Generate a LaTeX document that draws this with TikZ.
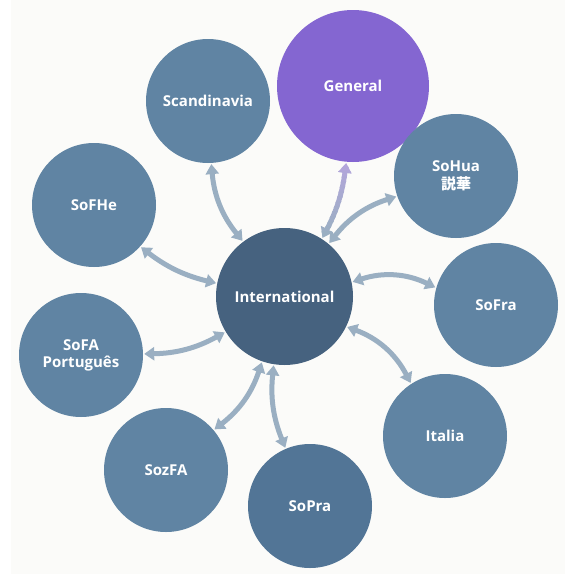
\documentclass[tikz,border=0pt]{standalone}
\usepackage{fontspec}
\setmainfont{Open Sans}
\newfontfamily\cjkfont{Noto Sans CJK JP}
\usetikzlibrary{arrows.meta}
\definecolor{bgc}{HTML}{FBFBF9}
\definecolor{nodec}{HTML}{6084A3}
\definecolor{intc}{HTML}{46627F}
\definecolor{prac}{HTML}{527596}
\definecolor{genc}{HTML}{8466D1}
\definecolor{arrowc}{HTML}{9AAFC2}
\definecolor{genarr}{HTML}{B6A5DE}
\tikzset{
  bubble/.style={circle, fill=nodec, text=white, inner sep=0pt, minimum size=124pt,
    font=\bfseries\fontsize{15}{17}\selectfont, align=center},
  conn/.style={line width=5pt, draw=arrowc,
    {Triangle[length=10pt,width=13pt]}-{Triangle[length=10pt,width=13pt]},
    shorten <=1pt, shorten >=1pt},
}
\begin{document}
\begin{tikzpicture}[x=1pt,y=1pt]
\fill[white] (0,0) rectangle (576,-576);
\fill[bgc] (11,0) rectangle (565,-574);
\useasboundingbox (0,0) rectangle (576,-576);

\node[bubble, fill=intc, minimum size=137pt] (Int) at (284.5,-296.5) {International};
\node[bubble, fill=genc, minimum size=152pt] (Gen) at (353,-86) {General};
\node[bubble] (Sca) at (208,-101) {Scandinavia};
\node[bubble] (Hua) at (456,-176) {SoHua\\[1pt]{\cjkfont\bfseries 説華}};
\node[bubble] (Fhe) at (94,-205) {SoFHe};
\node[bubble] (Fra) at (496,-305) {SoFra};
\node[bubble] (Ita) at (445,-436) {Italia};
\node[bubble, fill=prac] (Pra) at (310,-506) {SoPra};
\node[bubble] (Zfa) at (166,-470) {SozFA};
\node[bubble] (Por) at (81,-355) {SoFA\\Português};

\draw[conn] (Sca.273.6) to[bend right=17] (Int.127);
\draw[conn] (Fhe.318) to[bend right=12] (Int.169.5);
\draw[conn] (Hua.199.6) to[bend right=17] (Int.50.9);
\draw[conn] (Fra.164.4) to[bend right=22] (Int.12);
\draw[conn] (Ita.123.4) to[bend right=21] (Int.334);
\draw[conn] (Por.1.8) to[bend right=14] (Int.211.5);
\draw[conn] (Zfa.40.4) to[bend right=17] (Int.251.3);
\draw[conn] (Pra.113.3) to[bend left=14] (Int.261.3);

\foreach \i in {0,...,15}{
  \pgfmathtruncatemacro{\pct}{100-\i*100/15}
  \colorlet{bandc}{genarr!\pct!arrowc}
  \begin{scope}
    \clip (280,{-(156+5*\i)}) rectangle (390,{-(162.5+5*\i)});
    \draw[conn, draw=bandc] (Gen.265.5) to[bend left=10] (Int.57.3);
  \end{scope}
}
\end{tikzpicture}
\end{document}
